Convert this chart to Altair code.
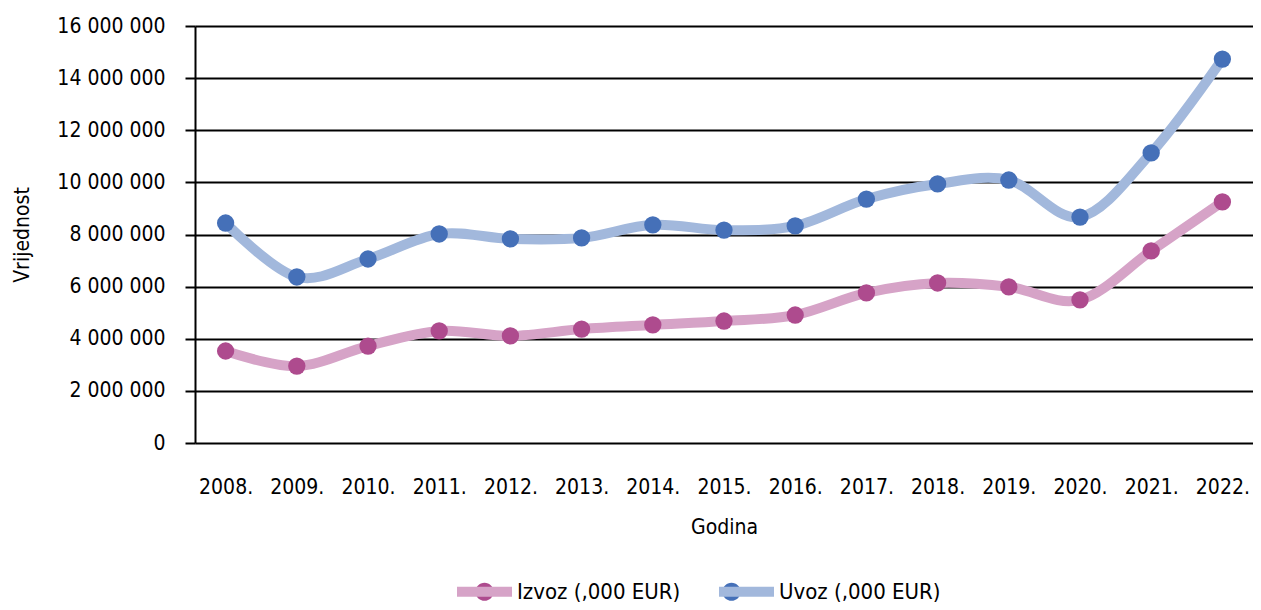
import altair as alt
import pandas as pd

years = ["2008.", "2009.", "2010.", "2011.", "2012.", "2013.", "2014.", "2015.",
         "2016.", "2017.", "2018.", "2019.", "2020.", "2021.", "2022."]
izvoz = [3530000, 2950000, 3720000, 4300000, 4110000, 4370000, 4530000, 4680000,
         4910000, 5760000, 6140000, 5990000, 5490000, 7370000, 9250000]
uvoz = [8440000, 6370000, 7060000, 8020000, 7830000, 7870000, 8370000, 8170000,
        8330000, 9360000, 9940000, 10090000, 8670000, 11130000, 14730000]

series_names = ["Izvoz (,000 EUR)", "Uvoz (,000 EUR)"]
dot_colors = ["#AE4B8E", "#4570B8"]
line_colors = ["#D6A3C7", "#A2B8DC"]

rows = []
for y, a, b in zip(years, izvoz, uvoz):
    rows.append({"Godina": y, "Serija": series_names[0], "Vrijednost": a})
    rows.append({"Godina": y, "Serija": series_names[1], "Vrijednost": b})
df = pd.DataFrame(rows)

FONT = "DejaVu Sans Condensed, Liberation Sans Narrow, Roboto, sans-serif"
FS = 21

circle_path = "M -0.33,0 A 0.33,0.33 0 1,0 0.33,0 A 0.33,0.33 0 1,0 -0.33,0 Z"

x_enc = alt.X("Godina:O", sort=years, title="Godina",
              scale=alt.Scale(type="point", padding=0.43),
              axis=alt.Axis(labelAngle=0, ticks=False, domain=False, grid=False,
                            labelPadding=33, titlePadding=19))
y_enc = alt.Y("Vrijednost:Q", title="Vrijednost",
              scale=alt.Scale(domain=[0, 16000000], nice=False),
              axis=alt.Axis(values=list(range(0, 16000001, 2000000)),
                            labelExpr="replace(format(datum.value, ','), regexp(',', 'g'), ' ')",
                            tickSize=10, labelPadding=20, titlePadding=24,
                            grid=True, gridColor="#000000", gridWidth=2,
                            domainColor="#000000", domainWidth=2,
                            tickColor="#000000", tickWidth=2))

legend_common = dict(orient="none", direction="horizontal", title=None,
                     legendX=257, legendY=533, symbolSize=3025,
                     symbolStrokeWidth=10, labelOffset=0, columnPadding=18,
                     labelLimit=400, labelFont=FONT, labelFontSize=22,
                     labelColor="#000000")

lines = alt.Chart(df).mark_line(interpolate="cardinal", strokeWidth=10).encode(
    x=x_enc, y=y_enc,
    color=alt.Color("Serija:N", sort=series_names,
                    scale=alt.Scale(domain=series_names, range=line_colors),
                    legend=alt.Legend(symbolType="stroke", **legend_common)),
    detail="Serija:N",
)

points = alt.Chart(df).mark_point(filled=True, size=300, opacity=1).encode(
    x=x_enc, y=y_enc,
    fill=alt.Fill("Serija:N", sort=series_names,
                  scale=alt.Scale(domain=series_names, range=dot_colors),
                  legend=alt.Legend(symbolType=circle_path,
                                    symbolStrokeColor="rgba(0,0,0,0)",
                                    symbolOpacity=1, labelOpacity=0,
                                    **legend_common)),
)

chart = alt.layer(lines, points).resolve_scale(color="independent").properties(
    width=1058, height=417,
    padding={"left": 187, "top": 18, "right": 0, "bottom": 160},
    autosize=alt.AutoSizeParams(type="none"),
).configure_view(stroke=None).configure_axis(
    labelFont=FONT, labelFontSize=FS, labelColor="#000000",
    titleFont=FONT, titleFontSize=FS, titleColor="#000000", titleFontWeight="normal",
)

chart.save("out.html", embed_options={"renderer": "svg", "actions": False})
